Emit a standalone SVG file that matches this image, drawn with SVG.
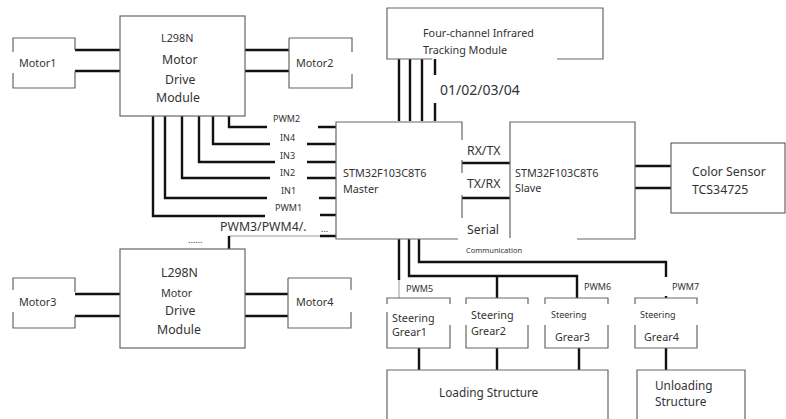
<svg xmlns="http://www.w3.org/2000/svg" width="786" height="419" viewBox="0 0 786 419">
<style>
.box{fill:none;stroke:#666;stroke-width:1.2}
.w{stroke:#111;stroke-width:2.4;fill:none}
.t{stroke:#999;stroke-width:1;fill:none}
text{font-family:"Noto Sans","Liberation Sans",sans-serif;fill:#333}
.m{font-size:10.8px}
.s{font-size:9px}
.l{font-size:12.3px}
</style>
<rect width="786" height="419" fill="#fff"/>
<g id="connectors">
<path class="w" d="M75 50H120M75 71H120M245 50H289M245 71H289"/>
<path class="w" d="M75 294H120M75 316H120M245 294H288M245 316H288"/>
<path class="w" d="M229 116V127H267M318 127H336"/>
<path class="w" d="M213 116V144H270M307 144H336"/>
<path class="w" d="M199 116V162H275M307 162H336"/>
<path class="w" d="M182 116V178H270M307 178H336"/>
<path class="w" d="M165 116V198H267M319 198H336"/>
<path class="w" d="M153 116V216H265M320 215H336"/>
<path class="t" d="M229 236H320"/>
<path class="w" d="M229 236V249M320 236H336"/>
<path class="w" d="M399 59V121M410 59V121M422 59V121M435 59V75M435 103V121"/>
<path class="w" d="M462 163H510M462 198H510"/>
<path class="w" d="M635 166H671M635 188H671"/>
<path class="w" d="M399 239V280"/>
<path class="t" d="M399 280V298"/>
<path class="w" d="M409 239V276H577V298M497 276V298"/>
<path class="w" d="M419 239V262H666V277"/>
<path class="w" d="M666 296V298"/>
<path class="w" d="M419 348V370M497 348V370M579 348V370M666 348V370"/>
</g>
<g id="motor1">
<path class="box" d="M13 52V38H75V50M75 71V88H13V73"/>
<text class="m" x="19" y="67">Motor1</text>
</g>
<g id="motor2">
<path class="box" d="M289 38V88H352V74M352 52V38H289"/>
<text class="m" x="296" y="67">Motor2</text>
</g>
<g id="l298n-top">
<rect class="box" x="120" y="16" width="125" height="100"/>
<text class="m" x="161" y="42">L298N</text>
<text class="l" x="162" y="64">Motor</text>
<text class="l" x="165" y="84">Drive</text>
<text class="l" x="156" y="102">Module</text>
</g>
<g id="motor3">
<path class="box" d="M13 290V278H75V292M75 316V328H13V312"/>
<text class="m" x="19" y="306">Motor3</text>
</g>
<g id="motor4">
<path class="box" d="M288 278V328H351V312M351 290V278H288"/>
<text class="m" x="296" y="306">Motor4</text>
</g>
<g id="l298n-bottom">
<rect class="box" x="120" y="249" width="125" height="99"/>
<text class="l" x="161" y="277">L298N</text>
<text class="m" x="161" y="297">Motor</text>
<text class="l" x="165" y="315">Drive</text>
<text class="l" x="157" y="334">Module</text>
</g>
<g id="labels-left">
<text class="s" x="273" y="122">PWM2</text>
<text class="s" x="280" y="141">IN4</text>
<text class="s" x="280" y="159">IN3</text>
<text class="s" x="280" y="176">IN2</text>
<text class="s" x="281" y="194">IN1</text>
<text class="s" x="275" y="211">PWM1</text>
<text class="l" x="220" y="231">PWM3/PWM4/.</text>
<text class="s" x="188" y="243">......</text>
<text class="s" x="321" y="232">...</text>
</g>
<g id="infrared">
<path class="box" d="M432 59H387V8H603V59H557"/>
<text class="m" x="423" y="37">Four-channel Infrared</text>
<text class="m" x="423" y="54">Tracking Module</text>
<text style="font-size:14px" x="440" y="95">01/02/03/04</text>
</g>
<g id="master">
<path class="box" d="M462 140V122H336V239H458M462 160V173M462 195V218"/>
<text class="m" x="343" y="177">STM32F103C8T6</text>
<text class="m" x="343" y="193">Master</text>
</g>
<g id="slave">
<path class="box" d="M510 238V122H635V239H577"/>
<text class="m" x="515" y="177">STM32F103C8T6</text>
<text class="m" x="515" y="192">Slave</text>
<text class="l" x="467" y="155">RX/TX</text>
<text class="l" x="467" y="188">TX/RX</text>
<text class="l" x="467" y="234">Serial</text>
<text style="font-size:7.5px" x="466" y="253">Communication</text>
</g>
<g id="color-sensor">
<rect class="box" x="671" y="143" width="114" height="70"/>
<text class="l" x="692" y="176">Color Sensor</text>
<text class="l" x="692" y="194">TCS34725</text>
</g>
<g id="gear1">
<path class="box" d="M387 304V298H450V304M450 325V348H387V312"/>
<text class="m" x="392" y="322">Steering</text>
<text class="m" x="392" y="336">Grear1</text>
<text class="s" x="406" y="292">PWM5</text>
</g>
<g id="gear2">
<path class="box" d="M466 304V298H528V304M528 325V348H466V325"/>
<text class="m" x="471" y="319">Steering</text>
<text class="m" x="471" y="335">Grear2</text>
</g>
<g id="gear3">
<path class="box" d="M545 304V298H608V304M608 325V348H545V325"/>
<text class="s" x="551" y="318">Steering</text>
<text class="m" x="555" y="341">Grear3</text>
<text class="s" x="584" y="290">PWM6</text>
</g>
<g id="gear4">
<path class="box" d="M635 304V298H697V304M697 325V348H635V325"/>
<text class="s" x="640" y="318">Steering</text>
<text class="m" x="644" y="341">Grear4</text>
<text class="s" x="672" y="290">PWM7</text>
</g>
<g id="loading">
<path class="box" d="M387 419V370H608V419"/>
<text style="font-size:11.8px" x="439" y="397">Loading Structure</text>
</g>
<g id="unloading">
<path class="box" d="M637 419V370H745V419"/>
<text style="font-size:11.8px" x="655" y="390">Unloading</text>
<text style="font-size:11.8px" x="655" y="406">Structure</text>
</g>
</svg>
